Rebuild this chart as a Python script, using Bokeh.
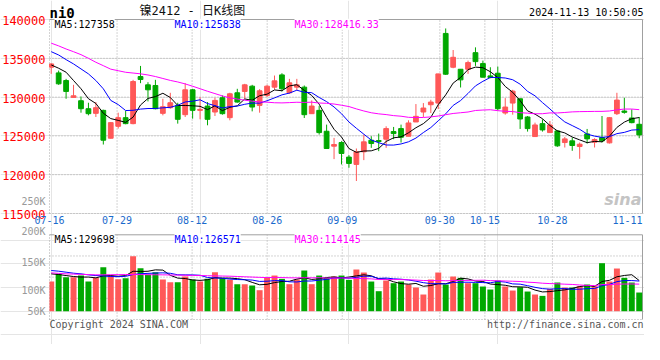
import numpy as np
from bokeh.plotting import figure
from bokeh.layouts import column
from bokeh.models import Range1d, Label
from bokeh.embed import file_html
from bokeh.resources import INLINE

# ---------------- data ----------------
symbol = "ni0"
title_text = "镍2412 - 日K线图"
timestamp = "2024-11-13 10:50:05"

dates = ["07-16", "07-17", "07-18", "07-19", "07-22", "07-23", "07-24", "07-25", "07-26", "07-29",
         "07-30", "07-31", "08-01", "08-02", "08-05", "08-06", "08-07", "08-08", "08-09", "08-12",
         "08-13", "08-14", "08-15", "08-16", "08-19", "08-20", "08-21", "08-22", "08-23", "08-26",
         "08-27", "08-28", "08-29", "08-30", "09-02", "09-03", "09-04", "09-05", "09-06", "09-09",
         "09-10", "09-11", "09-12", "09-13", "09-18", "09-19", "09-20", "09-23", "09-24", "09-25",
         "09-26", "09-27", "09-30", "10-08", "10-09", "10-10", "10-11", "10-14", "10-15", "10-16",
         "10-17", "10-18", "10-21", "10-22", "10-23", "10-24", "10-25", "10-28", "10-29", "10-30",
         "10-31", "11-01", "11-04", "11-05", "11-06", "11-07", "11-08", "11-11", "11-12", "11-13"]

opens = [133846, 133120, 132137, 129957, 129530, 128504, 127906, 128291, 124701, 126239,
         127350, 126581, 132650, 131581, 131496, 127906, 128632, 128932, 127735, 130940,
         128291, 128846, 128077, 129915, 127350, 130556, 130726, 131410, 128932, 130214,
         131282, 132863, 130556, 131282, 131282, 127863, 128291, 125598, 123675, 124145,
         122265, 121325, 122949, 124444, 124402, 124573, 125556, 125940, 124957, 126795,
         128077, 129017, 129231, 138205, 133846, 133590, 133590, 135726, 134316, 132735,
         133077, 127949, 129231, 129786, 127436, 124915, 126581, 125427, 125641, 124145,
         124359, 123632, 125256, 124188, 124786, 124103, 127863, 128205, 127308, 126496]
highs = [134359, 133419, 132350, 131581, 130085, 129273, 129359, 128376, 126795, 127991,
         128205, 132222, 134017, 131923, 132222, 129786, 130556, 129273, 131795, 131068,
         130000, 129359, 129915, 130214, 130556, 131068, 131709, 131581, 131026, 131581,
         132778, 133077, 132350, 132350, 131496, 129573, 128846, 126453, 124744, 124316,
         122521, 123376, 125171, 124957, 125299, 126239, 126154, 126453, 127009, 129103,
         129231, 129658, 132991, 138846, 136068, 133590, 134701, 136410, 134701, 133846,
         133932, 129872, 130940, 129786, 127564, 126709, 127137, 126923, 125726, 124872,
         124786, 124145, 125897, 124701, 127564, 127436, 130556, 129915, 128419, 127436]
lows = [132991, 131581, 129786, 129957, 127991, 127650, 127436, 123889, 124658, 125940,
        126496, 126496, 131795, 129444, 128419, 127650, 128504, 126581, 127436, 127222,
        127137, 126368, 127564, 127735, 127009, 129273, 129786, 128162, 127991, 130000,
        130983, 130726, 130427, 130855, 127308, 127863, 125171, 123376, 122009, 121325,
        120897, 119188, 121880, 123462, 123034, 123462, 124573, 124145, 124957, 126795,
        127436, 127949, 128462, 132863, 133718, 131239, 132991, 134017, 132564, 132436,
        128291, 127735, 127735, 125897, 125556, 124915, 125556, 125427, 123590, 123504,
        123077, 122051, 124017, 123504, 124145, 124017, 127692, 127863, 126624, 124701]
closes = [134274, 131709, 130726, 130171, 128504, 127863, 128632, 124444, 126709, 127350,
          126581, 132009, 132265, 130940, 128504, 128761, 129273, 127137, 130940, 128291,
          128419, 127137, 129573, 127863, 130427, 129359, 131581, 128718, 130812, 131410,
          132094, 131068, 131838, 131581, 127735, 128846, 125427, 123376, 123889, 122735,
          121453, 122949, 124231, 124017, 124273, 125940, 125299, 124829, 126667, 127521,
          128590, 129359, 132991, 132949, 135128, 132222, 134444, 134573, 132564, 132521,
          128504, 128718, 130769, 127179, 125940, 126410, 125769, 126410, 123718, 124615,
          123761, 123932, 124615, 124530, 124359, 127350, 129615, 128034, 126709, 125128]
volumes = [125200, 157600, 143500, 143500, 150500, 125200, 140700, 185700, 150500, 135100,
           139300, 232200, 181500, 154800, 164600, 133700, 122400, 122400, 146300, 133700,
           125200, 136500, 164600, 139300, 132300, 114000, 114000, 108300, 88600, 142100,
           150500, 136500, 114000, 133700, 171700, 114000, 150500, 140700, 146300, 150500,
           132300, 175900, 163200, 125200, 84400, 129400, 118200, 125200, 112600, 99900,
           70400, 133700, 163200, 112600, 146300, 140700, 118200, 118200, 104100, 91500,
           129400, 104100, 87200, 101300, 83000, 70400, 64700, 94300, 121000, 99900,
           99900, 105500, 112600, 105500, 202600, 125200, 180100, 140700, 121000, 78800]

# moving-average values before enough in-view history exists
ma5_head = [134145, 133718, 133205, 132137]
ma10_head = [135855, 135427, 134829, 134274, 133632, 132991, 132137, 131068, 129573]
ma30_head = [136950, 136600, 136200, 135850, 135470, 135000, 134490, 134050, 133600, 133400,
             133200, 133100, 133000, 132850, 132650, 132400, 132150, 131950, 131700, 131400,
             131080, 130750, 130450, 130150, 129900, 129750, 129600, 129480, 129380]
vma5_head = [157600, 154800, 150500, 146300]
vma10_head = [171700, 168800, 164600, 160400, 157600, 153400, 150500, 149100, 146300]
vma30_head = [161800, 159700, 157600, 156500, 155500, 154500, 153400, 153600, 154000, 154300,
              154600, 154800, 154500, 154000, 153700, 153400, 152800, 152200, 151600, 151000,
              150500, 149800, 149000, 148400, 147700, 146500, 145200, 144000, 142800]

price_ticks = [115000, 120000, 125000, 130000, 135000, 140000]
price_labels = ["115000", "120000", "125000", "130000", "135000", "140000"]
date_ticks = ["07-16", "07-29", "08-12", "08-26", "09-09", "09-30", "10-15", "10-28", "11-11"]
grid_dates = ["07-16", "07-29", "08-12", "08-26", "09-09", "09-30", "10-15", "10-28"]
vol_labels = ["200K", "150K", "100K", "50K"]
stray_label = "250K"
price_ma_text = ["MA5:127358", "MA10:125838", "MA30:128416.33"]
vol_ma_text = ["MA5:129698", "MA10:126571", "MA30:114145"]
copyright_text = "Copyright 2024 SINA.COM"
url_text = "http://finance.sina.com.cn"
watermark = "sina"

# ---------------- style / layout ----------------
RED = "#ff5858"
GREEN = "#00a800"
MA_COLORS = ["#000000", "#0000ff", "#ff00ff"]
GRID = "#a8a8a8"
BORDER = "#a0a0a0"
MONO = "DejaVu Sans Mono"
W = 644
LB, RB = 49, 2            # panel left / right edge offsets (px)
FW = W - LB - RB          # panel width (px)
H1, TOP1, PH1 = 226, 19, 194   # price figure height, panel top, panel height
H2, VTOP, VBOT, VBASE = 118, 8.3, 93, 84.7   # volume figure: panel top/bottom, zero line
VPX = 4220                # volume units per pixel


def moving(vals, n, head):
    v = np.asarray(vals, dtype=float)
    out = list(head)
    for i in range(len(head), len(v)):
        out.append(v[i - n + 1:i + 1].mean())
    return out


N = len(dates)
idx = np.arange(N)
o = np.array(opens, float)
c = np.array(closes, float)
colors = [RED if cc >= oo else GREEN for oo, cc in zip(o, c)]
body_top = np.maximum(o, c)
body_bot = np.minimum(o, c)

ma5 = moving(closes, 5, ma5_head)
ma10 = moving(closes, 10, ma10_head)
ma30 = moving(closes, 30, ma30_head)
vma5 = moving(volumes, 5, vma5_head)
vma10 = moving(volumes, 10, vma10_head)
vma30 = moving(volumes, 30, vma30_head)

X0, X1 = -0.23, N - 1 + 0.44
PPX = FW / (X1 - X0)
xr = Range1d(X0 - LB / PPX, X1 + RB / PPX)


def gpos(d):
    i = dates.index(d)
    return X0 + i * (X1 - X0) / (N - 1)


def lab(fig, H, text, x, ytop=None, y=None, xu="screen", yu="screen", size="10px",
        color="#000000", align="left", baseline="middle", font=MONO, style="normal",
        bg=None, yoff=0):
    yy = y if y is not None else H - ytop
    fig.add_layout(Label(x=x, y=yy, x_units=xu, y_units=yu, text=text, text_font=font,
                         text_font_size=size, text_color=color, text_align=align,
                         text_baseline=baseline, text_font_style=style,
                         background_fill_color=bg, y_offset=yoff))


def base_fig(H, yr):
    f = figure(width=W, height=H, x_range=xr, y_range=yr, output_backend="svg",
               toolbar_location=None, x_axis_location=None, y_axis_location=None,
               min_border=0)
    f.outline_line_color = None
    f.background_fill_color = "white"
    f.border_fill_color = "white"
    return f


def panel_frame(f, yb, yt, hticks):
    gx = [gpos(d) for d in grid_dates]
    f.segment(x0=gx, y0=yb, x1=gx, y1=yt, line_color=GRID, line_dash="1 2", line_width=1)
    f.segment(x0=X0, y0=hticks, x1=X1, y1=hticks, line_color=GRID, line_dash="1 2", line_width=1)
    f.segment(x0=[X0, X1], y0=[yt, yb], x1=[X1, X1], y1=[yt, yt], line_color=BORDER, line_width=1)


# ---------------- price panel ----------------
PPY = PH1 / (price_ticks[-1] - price_ticks[0])
BOT1 = H1 - TOP1 - PH1
p = base_fig(H1, Range1d(price_ticks[0] - BOT1 / PPY, price_ticks[-1] + TOP1 / PPY))
panel_frame(p, price_ticks[0], price_ticks[-1], price_ticks[:-1])

lab(p, H1, watermark, LB + FW - 1, ytop=199, size="16px", color="#c4c4c4", align="right",
    font="DejaVu Sans", style="bold italic")

p.segment(x0=idx, y0=lows, x1=idx, y1=highs, color=colors, line_width=1)
p.quad(left=np.maximum(idx - 0.32, X0), right=idx + 0.32, top=body_top, bottom=body_bot,
       fill_color=colors, line_color=colors, line_width=1)
for vals, col in zip([ma5, ma10, ma30], MA_COLORS):
    p.line(idx, vals, line_color=col, line_width=1)

for v, t in zip(price_ticks, price_labels):
    lab(p, H1, t, LB - 4, y=v, yu="data", size="12px", color="#ff0000", align="right",
        baseline="alphabetic", yoff=-1)
lab(p, H1, stray_label, LB - 4, ytop=201, color="#999999", align="right")
for d in date_ticks:
    lab(p, H1, d, gpos(d), ytop=219.5, xu="data", color="#1a6acc", align="center")

lab(p, H1, symbol, LB, ytop=12, size="14px", style="bold")
lab(p, H1, title_text, LB + 90, ytop=10.5, size="12px",
    font="DejaVu Sans Mono, Noto Sans CJK SC", color="#111111")
lab(p, H1, timestamp, W - 1, ytop=12, align="right")
for t, x, col in zip(price_ma_text, [5, 125, 245], MA_COLORS):
    lab(p, H1, t, LB + x, ytop=TOP1 + 4.7, color=col, bg="white")

# ---------------- volume panel ----------------
VB = -(VBOT - VBASE) * VPX
VT = (VBASE - VTOP) * VPX
v = base_fig(H2, Range1d(-(H2 - VBASE) * VPX, VBASE * VPX))
panel_frame(v, VB, VT, [VB + k * (VT - VB) / 4 for k in range(4)])

v.quad(left=np.maximum(idx - 0.4, X0), right=idx + 0.4, top=volumes, bottom=0,
       fill_color=colors, line_color=None)
for vals, col in zip([vma5, vma10, vma30], MA_COLORS):
    v.line(idx, vals, line_color=col, line_width=1)

for t, yt in zip(vol_labels, [4.7, 35.7, 64, 84.7]):
    lab(v, H2, t, LB - 4, ytop=yt, color="#999999", align="right")
for t, x, col in zip(vol_ma_text, [5, 125, 245], MA_COLORS):
    lab(v, H2, t, LB + x, ytop=VTOP + 4.2, color=col, bg="white")
lab(v, H2, copyright_text, LB, ytop=97.5, color="#555555")
lab(v, H2, url_text, W - 1, ytop=97.5, color="#555555", align="right")

layout = column(p, v)
open("out.html", "w").write(file_html(layout, INLINE))
